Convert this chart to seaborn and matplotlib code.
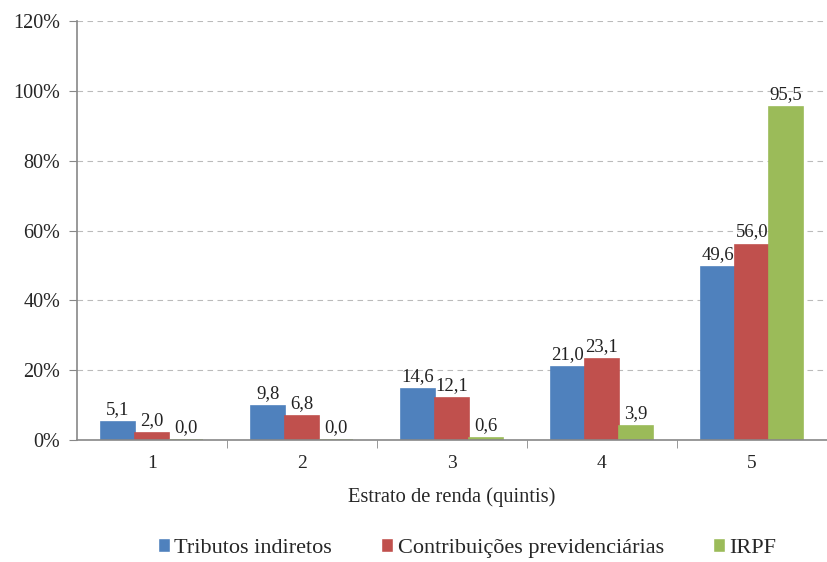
import pandas as pd
import matplotlib.pyplot as plt
import seaborn as sns

estratos = ["1", "2", "3", "4", "5"]
tributos_indiretos = [5.1, 9.8, 14.6, 21.0, 49.6]
contribuicoes = [2.0, 6.8, 12.1, 23.1, 56.0]
irpf = [0.0, 0.0, 0.6, 3.9, 95.5]
series = ["Tributos indiretos", "Contribuições previdenciárias", "IRPF"]
cores = ["#4F81BD", "#C0504D", "#9BBB59"]

df = pd.DataFrame({
    "estrato": estratos * 3,
    "valor": tributos_indiretos + contribuicoes + irpf,
    "serie": [s for s in series for _ in estratos],
})

sns.set_style("white")
plt.rcParams['font.family'] = ['Liberation Serif', 'DejaVu Serif']

fig = plt.figure(figsize=(8.27, 5.62), dpi=100)
ax = fig.add_axes([0.093, 0.217, 0.907, 0.745])

sns.barplot(data=df, x="estrato", y="valor", hue="serie", palette=cores,
            width=0.68, ax=ax, legend=True, saturation=1)

for cont, cor in zip(ax.containers, cores):
    for bar in cont:
        bar.set_edgecolor(cor)
        bar.set_linewidth(1.2)
    ax.bar_label(cont, labels=[f"{v:.1f}".replace(".", ",") for v in cont.datavalues],
                 padding=3, fontsize=13.5, color="#222222")

ax.set_ylim(0, 120)
ax.set_xlim(-0.5, 4.5)
ax.set_yticks(range(0, 121, 20))
ax.set_yticklabels([f"{v}%" for v in range(0, 121, 20)], fontsize=14.5)
ax.yaxis.grid(True, linestyle=(0, (5, 4)), color="#BBBBBB", linewidth=0.8)
ax.set_axisbelow(True)

ax.set_xticks(range(5))
ax.set_xticklabels(estratos, fontsize=14)
ax.set_xticks([0.5, 1.5, 2.5, 3.5], minor=True)
ax.tick_params(axis="x", which="major", length=0, pad=11)
ax.tick_params(axis="x", which="minor", length=6, color="#888888", direction="out", bottom=True)
ax.tick_params(axis="y", length=6, color="#888888", direction="out", left=True, pad=6)

for s in ["top", "right"]:
    ax.spines[s].set_visible(False)
for s in ["left", "bottom"]:
    ax.spines[s].set_color("#888888")
    ax.spines[s].set_linewidth(1.2)

ax.set_xlabel("Estrato de renda (quintis)", fontsize=14.8, labelpad=11)
ax.set_ylabel("")

ax.legend(loc="center", bbox_to_anchor=(0.52, -0.258), ncol=3, frameon=False,
          fontsize=16, handlelength=0.55, handleheight=0.55, handletextpad=0.2,
          columnspacing=2.2, borderpad=0.1)

plt.savefig("out.png", dpi=100)
